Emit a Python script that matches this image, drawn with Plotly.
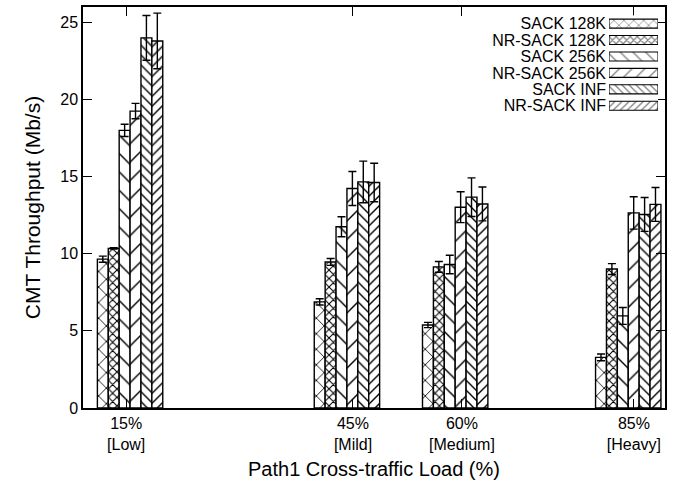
import plotly.graph_objects as go

# Load levels on the x axis
loads = ["15%<br>[Low]", "45%<br>[Mild]", "60%<br>[Medium]", "85%<br>[Heavy]"]

# Mean throughput (Mb/s) per configuration, one value per load level
series = ["SACK 128K", "NR-SACK 128K", "SACK 256K", "NR-SACK 256K", "SACK INF", "NR-SACK INF"]
sack_128k = [9.65, 6.88, 5.38, 3.28]
nrsack_128k = [10.35, 9.47, 9.15, 9.01]
sack_256k = [18.0, 11.75, 9.3, 5.97]
nrsack_256k = [19.25, 14.23, 13.02, 12.65]
sack_inf = [24.0, 14.66, 13.67, 12.55]
nrsack_inf = [23.8, 14.62, 13.23, 13.2]

# Confidence half-widths (Mb/s)
sack_128k_err = [0.2, 0.2, 0.17, 0.22]
nrsack_128k_err = [0.05, 0.22, 0.35, 0.35]
sack_256k_err = [0.4, 0.65, 0.6, 0.55]
nrsack_256k_err = [0.5, 1.1, 1.0, 1.05]
sack_inf_err = [1.45, 1.35, 1.25, 1.1]
nrsack_inf_err = [1.8, 1.25, 1.1, 1.1]

values = [sack_128k, nrsack_128k, sack_256k, nrsack_256k, sack_inf, nrsack_inf]
errors = [sack_128k_err, nrsack_128k_err, sack_256k_err, nrsack_256k_err, sack_inf_err, nrsack_inf_err]

# Layout positions of clusters / tick labels on the load axis
group_x = [14.75, 45.2, 60.4, 84.7]
tick_x = [14.2, 46.05, 61.35, 85.5]
bar_w = 1.53

# Hatch styles per configuration
shapes = ["x", "x", "\\", "/", "\\", "/"]
sizes = [11, 6, 13, 13, 7, 7]
solid = [0.15, 0.32, 0.11, 0.11, 0.2, 0.2]

FONT = "Liberation Sans, Arial, Helvetica, sans-serif"

fig = go.Figure()
n = len(series)
for i in range(n):
    fig.add_trace(go.Bar(
        x=group_x,
        y=values[i],
        name=series[i],
        width=bar_w,
        offset=(i - n / 2) * bar_w,
        marker=dict(
            color="white",
            line=dict(color="black", width=1.4),
            pattern=dict(shape=shapes[i], size=sizes[i], solidity=solid[i],
                         fgcolor="black", bgcolor="white", fillmode="replace"),
        ),
        error_y=dict(type="data", array=errors[i], color="black",
                     thickness=1.4, width=4),
        showlegend=False,
        xaxis="x", yaxis="y",
    ))

# Key: one hatched swatch per configuration, labelled by the inset's tick text
fig.add_trace(go.Bar(
    y=series,
    x=[1] * n,
    orientation="h",
    marker=dict(
        color="white",
        line=dict(color="black", width=1.1),
        pattern=dict(shape=shapes, size=[max(5, s - 4) for s in sizes],
                     solidity=[s * 1.3 for s in solid], fgcolor="black", bgcolor="white"),
    ),
    width=0.55,
    showlegend=False,
    hoverinfo="skip",
    xaxis="x2", yaxis="y2",
))

axis_common = dict(
    showline=True, linecolor="black", linewidth=1.5, mirror="allticks",
    ticks="inside", ticklen=9, tickwidth=1.2, tickcolor="black",
    showgrid=False, zeroline=False,
    tickfont=dict(family=FONT, size=16, color="black"),
)

fig.update_layout(
    width=694, height=486,
    margin=dict(l=83, r=29, t=5, b=78),
    paper_bgcolor="white", plot_bgcolor="white",
    barmode="overlay",
    font=dict(family=FONT, color="black"),
    xaxis=dict(
        range=[8.14, 89.86],
        tickvals=tick_x, ticktext=loads,
        title=dict(text="Path1 Cross-traffic Load (%)", font=dict(size=20), standoff=10),
        **axis_common,
    ),
    yaxis=dict(
        range=[0, 26], dtick=5,
        title=dict(text="CMT Throughput (Mb/s)", font=dict(size=21), standoff=14),
        **axis_common,
    ),
    xaxis2=dict(domain=[0.9038, 0.988], range=[0, 1], visible=False, anchor="y2"),
    yaxis2=dict(
        domain=[0.7333, 0.979], anchor="x2", autorange="reversed",
        tickmode="array", tickvals=series, ticktext=series,
        showline=False, showgrid=False, zeroline=False, ticks="",
        tickfont=dict(family=FONT, size=16, color="black"),
        ticklabelstandoff=2,
    ),
)

fig.write_html("out.html")
